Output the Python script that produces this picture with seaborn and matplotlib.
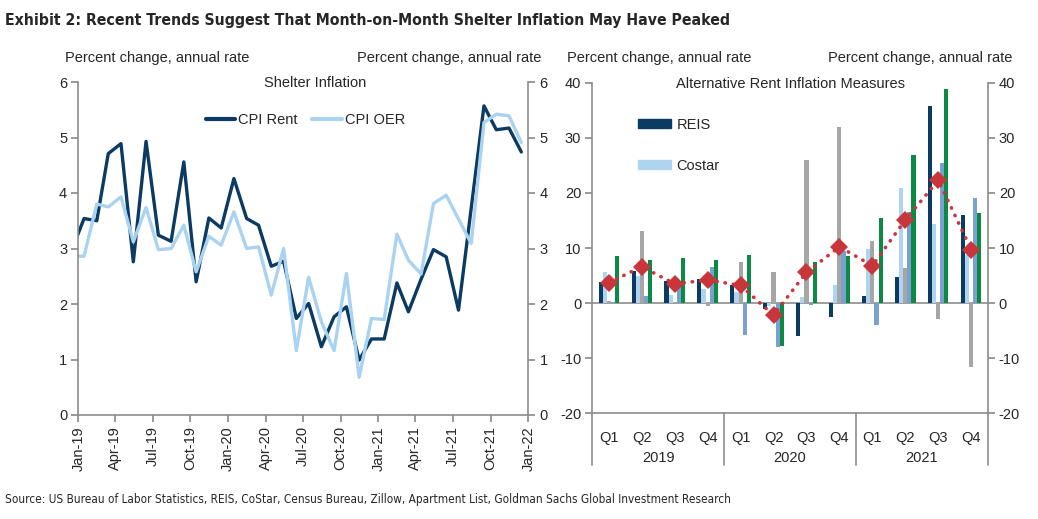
import pandas as pd
import seaborn as sns
import matplotlib.pyplot as plt
import matplotlib.patches as mpatches
from matplotlib import font_manager

sns.set_theme(style="white")
plt.rcParams["font.family"] = ["Liberation Sans", "DejaVu Sans"]
plt.rcParams["axes.unicode_minus"] = False

# fonte estreita se existir (DejaVu Sans Condensed), senão Liberation Sans menor
estreitas = [f for f in font_manager.fontManager.ttflist
             if f.name == "DejaVu Sans" and f.stretch in ("condensed", 600)]
TEM_ESTREITA = len(estreitas) > 0

# --- Shelter inflation (monthly, Dec-18 .. Dec-21) ---
months = pd.date_range("2018-12-15", periods=37, freq=pd.DateOffset(months=1))
cpi_rent = [2.95, 3.54, 3.50, 4.71, 4.89, 2.76, 4.93, 3.24, 3.13, 4.56, 2.40, 3.55, 3.37,
            4.26, 3.54, 3.42, 2.68, 2.77, 1.74, 2.01, 1.23, 1.77, 1.95, 0.99, 1.37,
            1.37, 2.38, 1.86, 2.45, 2.98, 2.85, 1.89, 3.73, 5.57, 5.14, 5.17, 4.74]
cpi_oer = [2.86, 2.86, 3.80, 3.75, 3.93, 3.12, 3.74, 2.98, 3.00, 3.42, 2.58, 3.22, 3.06,
           3.66, 3.00, 3.03, 2.16, 3.00, 1.16, 2.48, 1.68, 1.16, 2.55, 0.68, 1.74,
           1.72, 3.26, 2.79, 2.54, 3.81, 3.96, 3.53, 3.09, 5.27, 5.42, 5.39, 4.91]
tick_dates = pd.date_range("2019-01-01", "2022-01-01", freq="QS")

# --- Alternative rent measures (quarterly) ---
quarters = ["2019 Q1", "2019 Q2", "2019 Q3", "2019 Q4",
            "2020 Q1", "2020 Q2", "2020 Q3", "2020 Q4",
            "2021 Q1", "2021 Q2", "2021 Q3", "2021 Q4"]
q_labels = ["Q1", "Q2", "Q3", "Q4"] * 3
years = ["2019", "2020", "2021"]
reis = [3.9, 5.9, 4.1, 4.4, 3.2, -1.1, -6.0, -2.5, 1.3, 4.7, 35.7, 15.9]
costar = [5.6, 5.0, 1.5, 2.6, 2.1, -0.5, 1.1, 3.3, 9.9, 20.9, 14.4, 8.8]
census = [0.3, 13.1, 0.0, -0.6, 7.5, 5.6, 26.0, 31.9, 11.3, 6.4, -2.8, -11.6]
zillow = [0.2, 1.3, 3.6, 6.5, -5.7, -7.9, -0.3, 9.4, -3.9, 16.6, 25.5, 19.1]
apt_list = [8.5, 7.8, 8.2, 7.9, 8.8, -7.7, 7.5, 8.5, 15.4, 26.9, 38.8, 16.3]
average = [3.7, 6.6, 3.5, 4.2, 3.2, -2.2, 5.6, 10.2, 6.8, 15.1, 22.3, 9.7]

cores_linhas = {"CPI Rent": "#0B3A62", "CPI OER": "#A9D3F1"}
cores_barras = {"REIS": "#0B3A62", "Costar": "#AED4F0", "Census": "#A6A6A6",
                "Zillow": "#7AA0CF", "Apartment List": "#0A8A45"}
RED = "#C8363B"
GRAY = "#8C8C8C"
FS = 10.5

W, H = 1038, 519
fig = plt.figure(figsize=(W / 100, H / 100), dpi=100)
ax1 = fig.add_axes([78.3 / W, 1 - 415 / H, 450 / W, 333 / H])
ax2 = fig.add_axes([592.3 / W, 1 - 413.3 / H, 395.4 / W, 330.6 / H])

# Left panel: lines
shelter = pd.DataFrame({"month": months, "CPI Rent": cpi_rent, "CPI OER": cpi_oer})
shelter = shelter.melt(id_vars="month", var_name="series", value_name="value")
sns.lineplot(data=shelter, x="month", y="value", hue="series",
             hue_order=["CPI Rent", "CPI OER"], palette=cores_linhas,
             linewidth=2.4, ax=ax1)
ax1.set_xlim(pd.Timestamp("2019-01-01"), pd.Timestamp("2022-01-01"))
ax1.set_ylim(0, 6)
ax1.set_xticks(tick_dates)
ax1.set_xticklabels([d.strftime("%b-%y") for d in tick_dates], rotation=90)
ax1.set_yticks(range(0, 7))
ax1.set_xlabel("")
ax1.set_ylabel("")
leg = ax1.legend(loc="upper center", bbox_to_anchor=(0.505, 0.924), ncol=2, frameon=False,
                 handlelength=2.0, handletextpad=0.2, columnspacing=1.0, fontsize=FS,
                 borderaxespad=0)
for h in leg.get_lines():
    h.set_linewidth(3)
ax1.text(0.527, 0.998, "Shelter Inflation", transform=ax1.transAxes,
         ha="center", va="center", fontsize=FS)

# Right panel: bars + average
alt = pd.DataFrame({"quarter": quarters, "REIS": reis, "Costar": costar,
                    "Census": census, "Zillow": zillow, "Apartment List": apt_list})
alt = alt.melt(id_vars="quarter", var_name="series", value_name="value")
ax2.axhline(0, color=GRAY, lw=1.2, zorder=0.5)
sns.barplot(data=alt, x="quarter", y="value", hue="series", order=quarters,
            hue_order=list(cores_barras), palette=cores_barras, width=0.62,
            saturation=1, errorbar=None, legend=False, linewidth=0, ax=ax2)
media = pd.DataFrame({"quarter": quarters, "value": average})
sns.pointplot(data=media, x="quarter", y="value", order=quarters, color=RED,
              markers="D", errorbar=None, ax=ax2)
pt = ax2.lines[-1]
pt.set_linestyle((0, (0.1, 2.2)))
pt.set_linewidth(2.6)
pt.set_dash_capstyle("round")
pt.set_markersize(9.5)
pt.set_markeredgewidth(0)
pt.set_zorder(5)

ax2.set_xlim(-0.5, 11.5)
ax2.set_ylim(-20, 40)
ax2.set_yticks(range(-20, 41, 10))
ax2.set_xticks(range(12))
ax2.set_xticklabels(q_labels)
ax2.set_xticks([i - 0.5 for i in range(13)], minor=True)
ax2.tick_params(axis="x", which="major", length=0, pad=13, labelsize=FS)
ax2.tick_params(axis="x", which="minor", direction="out", length=5, color=GRAY)
ax2.set_xlabel("")
ax2.set_ylabel("")
for i, ano in enumerate(years):
    ax2.text(4 * i + 1.5, -0.136, ano, transform=ax2.get_xaxis_transform(),
             ha="center", va="center", fontsize=FS)
for x in [-0.5, 3.5, 7.5, 11.5]:
    ax2.axvline(x, ymin=-0.157, ymax=0, color=GRAY, lw=1.2, clip_on=False)
handles = [mpatches.Patch(color=cores_barras["REIS"], label="REIS"),
           mpatches.Patch(color=cores_barras["Costar"], label="Costar")]
ax2.legend(handles=handles, loc="upper left", bbox_to_anchor=(0.115, 0.894),
           frameon=False, fontsize=FS, handlelength=2.3, handleheight=0.55,
           labelspacing=1.85, handletextpad=0.35, borderaxespad=0, borderpad=0)
ax2.text(0.5, 0.995, "Alternative Rent Inflation Measures", transform=ax2.transAxes,
         ha="center", va="center", fontsize=FS)

for ax in (ax1, ax2):
    ax.spines["top"].set_visible(False)
    for s in ("left", "right", "bottom"):
        ax.spines[s].set_color(GRAY)
        ax.spines[s].set_linewidth(1.2)
    ax.tick_params(axis="y", left=True, right=True, labelleft=True, labelright=True,
                   direction="out", length=5, color=GRAY, labelsize=FS, pad=3)
ax1.tick_params(axis="x", direction="out", length=5, color=GRAY, labelsize=FS, pad=3,
                bottom=True)

unidade = "Percent change, annual rate"
fig.text(65 / W, 1 - 58 / H, unidade, ha="left", va="center", fontsize=FS)
fig.text(541 / W, 1 - 58 / H, unidade, ha="right", va="center", fontsize=FS)
fig.text(567 / W, 1 - 58 / H, unidade, ha="left", va="center", fontsize=FS)
fig.text(1012 / W, 1 - 58 / H, unidade, ha="right", va="center", fontsize=FS)

titulo = "Exhibit 2: Recent Trends Suggest That Month-on-Month Shelter Inflation May Have Peaked"
fonte = ("Source: US Bureau of Labor Statistics, REIS, CoStar, Census Bureau, Zillow, "
         "Apartment List, Goldman Sachs Global Investment Research")
if TEM_ESTREITA:
    fig.text(5 / W, 1 - 20 / H, titulo, ha="left", va="center", fontsize=11.3,
             fontweight="bold", family="DejaVu Sans", fontstretch="condensed")
    fig.text(5 / W, 1 - 500 / H, fonte, ha="left", va="center", fontsize=8.5,
             family="DejaVu Sans", fontstretch="condensed")
else:
    fig.text(5 / W, 1 - 20 / H, titulo, ha="left", va="center", fontsize=12.1,
             fontweight="bold")
    fig.text(5 / W, 1 - 500 / H, fonte, ha="left", va="center", fontsize=8.5)

fig.savefig("out.png", dpi=100)
